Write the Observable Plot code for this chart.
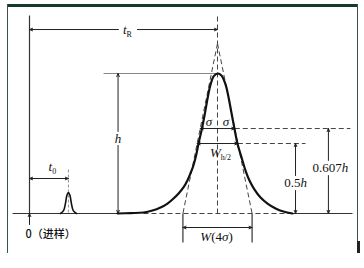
<!DOCTYPE html>
<html>
<head>
<meta charset="utf-8">
<script src="https://cdn.jsdelivr.net/npm/d3@7"></script>
<script src="https://cdn.jsdelivr.net/npm/@observablehq/plot@0.6"></script>
<style>
  body { margin: 0; background: #fff; }
  #wrap { position: relative; width: 364px; height: 268px; overflow: hidden; }
  #wrap svg { position: absolute; left: 0; top: 0; }
  .edge { position: absolute; }
</style>
</head>
<body>
<div id="wrap">
  <div class="edge" style="left:7px;top:4px;width:351px;height:3px;background:#143a2f"></div>
  <div class="edge" style="left:7px;top:4px;width:1px;height:249px;background:#3b524c"></div>
  <div class="edge" style="left:357px;top:4px;width:1px;height:249px;background:#3b524c"></div>
  <div class="edge" style="left:357px;top:241px;width:3px;height:12px;background:#222"></div>
</div>
<script>
// Chromatographic peak parameters (time in min, signal in units of peak height h)
const tDead = 2.07;      // t0, dead time
const tRet = 10;         // tR, retention time
const sigma = 0.92;      // standard deviation of the peak
const peakH = 1;         // h
const levels = [0.5, 0.607];   // half height, inflection height

// Recorded trace of the analyte peak
const traceTime = [4.68, 5.37, 6.06, 6.54, 6.97, 7.34, 7.66, 7.93, 8.19, 8.40, 8.56, 8.72, 8.86, 8.99, 9.15, 9.31, 9.47, 9.63, 9.79, 10.0,
                   10.21, 10.43, 10.59, 10.74, 10.90, 11.06, 11.28, 11.49, 11.70, 11.97, 12.29, 12.66, 13.09, 13.51, 13.99];
const traceSignal = [0, 0.003, 0.007, 0.021, 0.043, 0.071, 0.107, 0.143, 0.186, 0.236, 0.286, 0.343, 0.414, 0.500, 0.593, 0.700, 0.821, 0.921, 0.979, 1.0,
                     0.986, 0.921, 0.829, 0.721, 0.607, 0.500, 0.400, 0.307, 0.236, 0.171, 0.114, 0.071, 0.036, 0.014, 0];

// Unretained (dead-time) peak
const deadTime = [1.65, 1.81, 1.91, 1.99, 2.07, 2.15, 2.23, 2.33, 2.50];
const deadSignal = [0, 0.02, 0.07, 0.13, 0.15, 0.13, 0.07, 0.02, 0];

const trace = traceTime.map((t, i) => ({t, s: traceSignal[i]}));
const deadPeak = deadTime.map((t, i) => ({t, s: deadSignal[i]}));

const [half, infl] = levels;
const wHalf = 2.355 * sigma / 2;      // half of W(h/2)
const apexTangent = 2 * infl * peakH; // where the inflection tangents cross
const seg = (x1, y1, x2, y2) => ({x1, y1, x2, y2});
const tEnd = traceTime[traceTime.length - 1];

const solidLines = [
  seg(0, 0, 0, 1.414),
  seg(-0.9, 0, traceTime[0], 0),
  seg(tEnd, 0, 17.18, 0),
  seg(tRet - 2 * sigma, 0, tRet - 2 * sigma, -0.207),
  seg(tRet + 2 * sigma, 0, tRet + 2 * sigma, -0.207)
];
const heightLine = [seg(3.94, peakH, tRet, peakH)];
const dashedLines = [
  seg(traceTime[2], 0, tEnd, 0),
  seg(tRet, 0, tRet, 1.414),
  seg(tRet, apexTangent, tRet - 2 * sigma, 0),
  seg(tRet, apexTangent, tRet + 2 * sigma, 0),
  seg(tRet + sigma, infl, 17.07, infl),
  seg(tRet + wHalf, half, 14.68, half)
];
const deadMarker = [seg(tDead, 0.314, tDead, 0)];
const arrows = [
  seg(4.73, 1.314, 0, 1.314), seg(5.74, 1.314, tRet, 1.314),
  seg(4.71, 0.586, 4.71, peakH), seg(4.71, 0.486, 4.71, 0),
  seg(tDead / 2, 0.25, 0, 0.25), seg(tDead / 2, 0.25, tDead, 0.25),
  seg(0, -0.079, 0, 0),
  seg(tRet, infl, tRet - sigma, infl), seg(tRet, infl, tRet + sigma, infl),
  seg(tRet, half, tRet - wHalf, half), seg(tRet, half, tRet + wHalf, half),
  seg(tRet, -0.1, tRet - 2 * sigma, -0.1), seg(tRet, -0.1, tRet + 2 * sigma, -0.1),
  seg(14.15, 0.271, 14.15, half), seg(14.15, 0.164, 14.15, 0),
  seg(15.9, 0.379, 15.9, infl), seg(15.9, 0.271, 15.9, 0)
];

const labels = [
  {x: 5.21, y: 1.314, text: "tR"},
  {x: 1.22, y: 0.33, text: "t0"},
  {x: 4.71, y: 0.536, text: "h"},
  {x: 9.55, y: 0.655, text: "σ"},
  {x: 10.45, y: 0.655, text: "σ"},
  {x: 10.16, y: 0.43, text: "Wh/2"},
  {x: 14.15, y: 0.221, text: "0.5h"},
  {x: 16.0, y: 0.329, text: "0.607h"},
  {x: 9.95, y: -0.164, text: "W(4σ)"}
];
const rich = {
  "tR": '<tspan font-style="italic">t</tspan><tspan font-size="8" dy="3">R</tspan>',
  "t0": '<tspan font-style="italic">t</tspan><tspan font-size="8" dy="3">0</tspan>',
  "h": '<tspan font-style="italic">h</tspan>',
  "σ": '<tspan font-style="italic">σ</tspan>',
  "Wh/2": '<tspan font-style="italic">W</tspan><tspan font-size="8" dy="3">h/2</tspan>',
  "0.5h": '0.5<tspan font-style="italic">h</tspan>',
  "0.607h": '0.607<tspan font-style="italic">h</tspan>',
  "W(4σ)": '<tspan font-style="italic">W</tspan>(4<tspan font-style="italic">σ</tspan>)'
};

const ink = "#111";
const chart = Plot.plot({
  width: 364,
  height: 268,
  margin: 0,
  x: {domain: [0, tRet], range: [29, 217], axis: null},
  y: {domain: [0, peakH], range: [213, 73], axis: null},
  marks: [
    Plot.link(solidLines, {x1: "x1", y1: "y1", x2: "x2", y2: "y2", stroke: "#333", strokeWidth: 1.2}),
    Plot.link(heightLine, {x1: "x1", y1: "y1", x2: "x2", y2: "y2", stroke: "#888", strokeWidth: 1}),
    Plot.link(dashedLines, {x1: "x1", y1: "y1", x2: "x2", y2: "y2", stroke: "#444", strokeWidth: 1, strokeDasharray: "5,3"}),
    Plot.link(deadMarker, {x1: "x1", y1: "y1", x2: "x2", y2: "y2", stroke: "#777", strokeWidth: 0.8, strokeDasharray: "3,2"}),
    Plot.arrow(arrows, {x1: "x1", y1: "y1", x2: "x2", y2: "y2", stroke: "#222", strokeWidth: 1, headLength: 5, headAngle: 45}),
    Plot.line(deadPeak, {x: "t", y: "s", stroke: ink, strokeWidth: 1.6, curve: "catmull-rom"}),
    Plot.line(trace, {x: "t", y: "s", stroke: ink, strokeWidth: 2.2, curve: "catmull-rom"}),
    Plot.text(labels, {x: "x", y: "y", text: "text", fontFamily: "Liberation Serif", fontSize: 13, fill: ink}),
    Plot.text(["0（进样）"], {x: -0.21, y: -0.15, text: d => d, textAnchor: "start", fontFamily: "Noto Sans CJK SC", fontSize: 11, fontWeight: 500, fill: ink})
  ]
});

d3.select(chart).selectAll("text").each(function () {
  const k = this.textContent;
  if (rich[k]) this.innerHTML = rich[k];
});
document.getElementById("wrap").prepend(chart);
</script>
</body>
</html>
